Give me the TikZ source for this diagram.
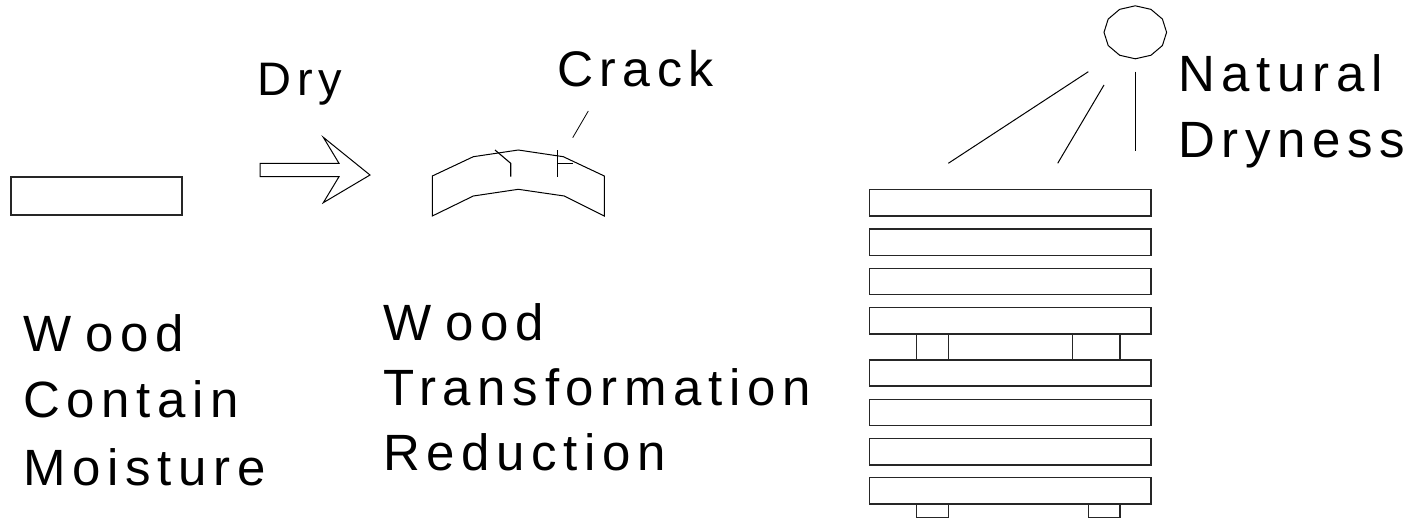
\documentclass[tikz,border=0pt]{standalone}
\usepackage{fontspec}
\setmainfont{Liberation Sans}[LetterSpace=13]
\begin{document}
\begin{tikzpicture}[x=1pt,y=-1pt,line width=1pt,
  outl/.style={draw=black!85,line width=1.1pt},
  lbl/.style={anchor=base west,inner sep=0pt,font=\fontsize{51}{60}\selectfont},
  board/.style={outl}]
\useasboundingbox (0,0) rectangle (1417,520);
% wet board
\draw[outl] (11,177) rectangle (182,215);
% arrow
\draw[line width=1pt] (260,163.3) -- (339,163.3) -- (323.3,137.3) -- (370,175) -- (323.3,202.7) -- (339,176.7) -- (260,176.7) -- cycle;
% warped board
\draw[line width=1pt] (432.3,176) -- (473.3,156.7) -- (518.3,150) -- (563.3,156.7) -- (604.3,176)
  -- (604.3,216) -- (564.3,196) -- (518.3,189.3) -- (473.3,196) -- (432.3,216) -- cycle;
\draw[line width=1.1pt] (495,150) -- (510.7,163.3) -- (510.7,176.7);
\draw[line width=1.1pt] (557.3,150) -- (557.3,176.7);
\draw[line width=1pt] (557.3,163.3) -- (573.3,163.3);
\draw[line width=0.8pt] (588.3,111) -- (572.7,137.7);
% sun
\draw[line width=1pt] plot[samples at={0,30,...,360}] ({1135.3+31.3*cos(\x)},{32.3+26.5*sin(\x)});
\draw[line width=1pt] (1088.3,71.7) -- (948.3,163.3);
\draw[line width=1pt] (1104,85) -- (1057.7,163.3);
\draw[line width=1.1pt] (1135.3,71.7) -- (1135.3,150.7);
% stack
\foreach \t/\b in {189.3/216,229/255.3,268.3/294.7,307.7/334,360/386,399.3/425.3,438.3/465,477.7/504}
  \draw[board] (869.3,\t) rectangle (1151,\b);
\draw[board] (916.7,334) rectangle (948.3,360);
\draw[board] (1072.7,334) rectangle (1120,360);
\draw[board] (916.7,504) rectangle (948.3,517.3);
\draw[board] (1088.3,504) rectangle (1120,517.3);
% labels
\node[lbl,font=\fontsize{47}{56}\selectfont] (dry) at (256.7,95) {D\hspace{6pt}ry};
\node[lbl,font=\fontsize{50}{58}\selectfont] (crack) at (556.7,86.7) {Crack};
\node[lbl] (nat1) at (1178,91.7) {Natural};
\node[lbl] (nat2) at (1178,157.3) {Dryness};
\node[lbl] (w1) at (23,351.7) {W\hspace{14pt}ood};
\node[lbl] (w2) at (23,417.3) {Contain};
\node[lbl] (w3) at (23,485) {Moisture};
\node[lbl] (t1) at (383,340) {W\hspace{14pt}ood};
\node[lbl] (t2) at (383,405) {Transformation};
\node[lbl] (t3) at (383,470) {Reduction};
\end{tikzpicture}
\end{document}
